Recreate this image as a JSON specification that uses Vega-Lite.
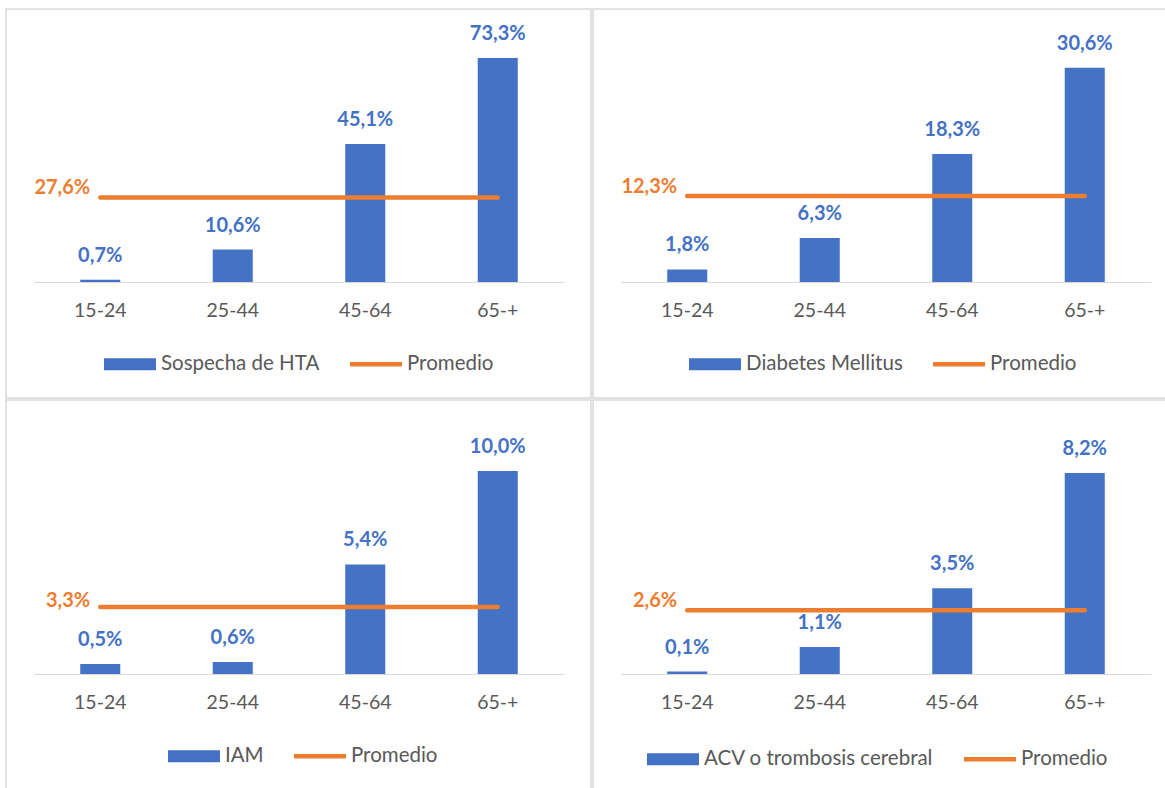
{
  "$schema": "https://vega.github.io/schema/vega-lite/v6.json",
  "padding": {"left": 5, "top": 8, "right": 0, "bottom": 0},
  "background": "white",
  "spacing": 0,
  "resolve": {"scale": {"color": "independent"}, "legend": {"color": "independent"}},
  "config": {
    "locale": {"number": {"decimal": ",", "thousands": ".", "grouping": [3], "currency": ["", " €"]}},
    "view": {"stroke": "#D9D9D9", "strokeWidth": 1.5},
    "font": "Lato",
    "concat": {"spacing": 0},
    "legend": {"title": null, "orient": "none", "direction": "horizontal", "symbolSize": 2704, "symbolStrokeWidth": 0, "labelFontSize": 20.5, "labelColor": "#595959", "labelOffset": 5, "labelLimit": 500, "columnPadding": 30}
  },
  "data": {
    "values": [
      {"panel": "HTA", "serie": "Sospecha de HTA", "edad": "15-24", "valor": 0.007},
      {"panel": "HTA", "serie": "Sospecha de HTA", "edad": "25-44", "valor": 0.106},
      {"panel": "HTA", "serie": "Sospecha de HTA", "edad": "45-64", "valor": 0.451},
      {"panel": "HTA", "serie": "Sospecha de HTA", "edad": "65-+", "valor": 0.733},
      {"panel": "HTA", "serie": "Promedio", "edad": "15-24", "valor": 0.276},
      {"panel": "HTA", "serie": "Promedio", "edad": "25-44", "valor": 0.276},
      {"panel": "HTA", "serie": "Promedio", "edad": "45-64", "valor": 0.276},
      {"panel": "HTA", "serie": "Promedio", "edad": "65-+", "valor": 0.276},
      {"panel": "DM", "serie": "Diabetes Mellitus", "edad": "15-24", "valor": 0.018},
      {"panel": "DM", "serie": "Diabetes Mellitus", "edad": "25-44", "valor": 0.063},
      {"panel": "DM", "serie": "Diabetes Mellitus", "edad": "45-64", "valor": 0.183},
      {"panel": "DM", "serie": "Diabetes Mellitus", "edad": "65-+", "valor": 0.306},
      {"panel": "DM", "serie": "Promedio", "edad": "15-24", "valor": 0.123},
      {"panel": "DM", "serie": "Promedio", "edad": "25-44", "valor": 0.123},
      {"panel": "DM", "serie": "Promedio", "edad": "45-64", "valor": 0.123},
      {"panel": "DM", "serie": "Promedio", "edad": "65-+", "valor": 0.123},
      {"panel": "IAM", "serie": "IAM", "edad": "15-24", "valor": 0.005},
      {"panel": "IAM", "serie": "IAM", "edad": "25-44", "valor": 0.006},
      {"panel": "IAM", "serie": "IAM", "edad": "45-64", "valor": 0.054},
      {"panel": "IAM", "serie": "IAM", "edad": "65-+", "valor": 0.100},
      {"panel": "IAM", "serie": "Promedio", "edad": "15-24", "valor": 0.033},
      {"panel": "IAM", "serie": "Promedio", "edad": "25-44", "valor": 0.033},
      {"panel": "IAM", "serie": "Promedio", "edad": "45-64", "valor": 0.033},
      {"panel": "IAM", "serie": "Promedio", "edad": "65-+", "valor": 0.033},
      {"panel": "ACV", "serie": "ACV o trombosis cerebral", "edad": "15-24", "valor": 0.001},
      {"panel": "ACV", "serie": "ACV o trombosis cerebral", "edad": "25-44", "valor": 0.011},
      {"panel": "ACV", "serie": "ACV o trombosis cerebral", "edad": "45-64", "valor": 0.035},
      {"panel": "ACV", "serie": "ACV o trombosis cerebral", "edad": "65-+", "valor": 0.082},
      {"panel": "ACV", "serie": "Promedio", "edad": "15-24", "valor": 0.026},
      {"panel": "ACV", "serie": "Promedio", "edad": "25-44", "valor": 0.026},
      {"panel": "ACV", "serie": "Promedio", "edad": "45-64", "valor": 0.026},
      {"panel": "ACV", "serie": "Promedio", "edad": "65-+", "valor": 0.026}
    ]
  },
  "vconcat": [
    {
      "spacing": 0,
      "resolve": {"scale": {"color": "independent"}, "legend": {"color": "independent"}},
      "hconcat": [
        {
          "width": 585, "height": 389,
          "transform": [{"filter": "datum.panel === 'HTA'"}],
          "encoding": {
            "x": {"field": "edad", "type": "nominal", "sort": ["15-24", "25-44", "45-64", "65-+"],
              "scale": {"range": [28, 558], "paddingInner": 0.698, "paddingOuter": 0.349},
              "axis": {"title": null, "offset": -116, "ticks": false, "labelPadding": 19, "labelFontSize": 19.5, "labelColor": "#595959", "domainColor": "#D9D9D9", "labelAngle": 0, "grid": false}},
            "y": {"field": "valor", "type": "quantitative", "scale": {"domain": [-0.3796, 0.893], "nice": false, "zero": false}, "axis": null},
            "color": {"field": "serie", "type": "nominal",
              "scale": {"domain": ["Sospecha de HTA", "Promedio"], "range": ["#4472C4", "#ED7D31"]},
              "legend": {"legendX": 98, "legendY": 329,
                "encode": {"symbols": {"update": {"shape": {"signal": "datum.value === 'Promedio' ? 'M-1,-0.087H1V0.087H-1Z' : 'M-1,-0.23H1V0.23H-1Z'"}, "fill": {"signal": "datum.value === 'Promedio' ? '#ED7D31' : '#4472C4'"}, "strokeWidth": {"value": 0}}}}}}
          },
          "layer": [
            {"transform": [{"filter": "datum.serie !== 'Promedio'"}], "mark": {"type": "bar"}},
            {"transform": [{"filter": "datum.serie !== 'Promedio'"}], "mark": {"type": "text", "dy": -24, "fontSize": 20, "fontWeight": "bold", "baseline": "middle"},
              "encoding": {"text": {"field": "valor", "type": "quantitative", "format": ".1%"}, "color": {"value": "#4472C4"}}},
            {"transform": [{"filter": "datum.serie === 'Promedio'"}], "mark": {"type": "line", "strokeWidth": 4.5, "strokeCap": "round"}},
            {"transform": [{"filter": "datum.serie === 'Promedio' && datum.edad === '15-24'"}], "mark": {"type": "text", "align": "right", "dx": -10, "dy": -10, "fontSize": 20, "fontWeight": "bold", "baseline": "middle"},
              "encoding": {"text": {"field": "valor", "type": "quantitative", "format": ".1%"}, "color": {"value": "#ED7D31"}}}
          ]
        },
        {
          "width": 574, "height": 389,
          "transform": [{"filter": "datum.panel === 'DM'"}],
          "encoding": {
            "x": {"field": "edad", "type": "nominal", "sort": ["15-24", "25-44", "45-64", "65-+"],
              "scale": {"range": [28, 558], "paddingInner": 0.698, "paddingOuter": 0.349},
              "axis": {"title": null, "offset": -116, "ticks": false, "labelPadding": 19, "labelFontSize": 19.5, "labelColor": "#595959", "domainColor": "#D9D9D9", "labelAngle": 0, "grid": false}},
            "y": {"field": "valor", "type": "quantitative", "scale": {"domain": [-0.1657, 0.39], "nice": false, "zero": false}, "axis": null},
            "color": {"field": "serie", "type": "nominal",
              "scale": {"domain": ["Diabetes Mellitus", "Promedio"], "range": ["#4472C4", "#ED7D31"]},
              "legend": {"legendX": 96, "legendY": 329,
                "encode": {"symbols": {"update": {"shape": {"signal": "datum.value === 'Promedio' ? 'M-1,-0.087H1V0.087H-1Z' : 'M-1,-0.23H1V0.23H-1Z'"}, "fill": {"signal": "datum.value === 'Promedio' ? '#ED7D31' : '#4472C4'"}, "strokeWidth": {"value": 0}}}}}}
          },
          "layer": [
            {"transform": [{"filter": "datum.serie !== 'Promedio'"}], "mark": {"type": "bar"}},
            {"transform": [{"filter": "datum.serie !== 'Promedio'"}], "mark": {"type": "text", "dy": -24, "fontSize": 20, "fontWeight": "bold", "baseline": "middle"},
              "encoding": {"text": {"field": "valor", "type": "quantitative", "format": ".1%"}, "color": {"value": "#4472C4"}}},
            {"transform": [{"filter": "datum.serie === 'Promedio'"}], "mark": {"type": "line", "strokeWidth": 4.5, "strokeCap": "round"}},
            {"transform": [{"filter": "datum.serie === 'Promedio' && datum.edad === '15-24'"}], "mark": {"type": "text", "align": "right", "dx": -10, "dy": -9, "fontSize": 20, "fontWeight": "bold", "baseline": "middle"},
              "encoding": {"text": {"field": "valor", "type": "quantitative", "format": ".1%"}, "color": {"value": "#ED7D31"}}}
          ]
        }
      ]
    },
    {
      "spacing": 0,
      "resolve": {"scale": {"color": "independent"}, "legend": {"color": "independent"}},
      "hconcat": [
        {
          "width": 585, "height": 390,
          "transform": [{"filter": "datum.panel === 'IAM'"}],
          "encoding": {
            "x": {"field": "edad", "type": "nominal", "sort": ["15-24", "25-44", "45-64", "65-+"],
              "scale": {"range": [28, 558], "paddingInner": 0.698, "paddingOuter": 0.349},
              "axis": {"title": null, "offset": -116, "ticks": false, "labelPadding": 19, "labelFontSize": 19.5, "labelColor": "#595959", "domainColor": "#D9D9D9", "labelAngle": 0, "grid": false}},
            "y": {"field": "valor", "type": "quantitative", "scale": {"domain": [-0.0571, 0.135], "nice": false, "zero": false}, "axis": null},
            "color": {"field": "serie", "type": "nominal",
              "scale": {"domain": ["IAM", "Promedio"], "range": ["#4472C4", "#ED7D31"]},
              "legend": {"legendX": 162, "legendY": 330,
                "encode": {"symbols": {"update": {"shape": {"signal": "datum.value === 'Promedio' ? 'M-1,-0.087H1V0.087H-1Z' : 'M-1,-0.23H1V0.23H-1Z'"}, "fill": {"signal": "datum.value === 'Promedio' ? '#ED7D31' : '#4472C4'"}, "strokeWidth": {"value": 0}}}}}}
          },
          "layer": [
            {"transform": [{"filter": "datum.serie !== 'Promedio'"}], "mark": {"type": "bar"}},
            {"transform": [{"filter": "datum.serie !== 'Promedio'"}], "mark": {"type": "text", "dy": -24, "fontSize": 20, "fontWeight": "bold", "baseline": "middle"},
              "encoding": {"text": {"field": "valor", "type": "quantitative", "format": ".1%"}, "color": {"value": "#4472C4"}}},
            {"transform": [{"filter": "datum.serie === 'Promedio'"}], "mark": {"type": "line", "strokeWidth": 4.5, "strokeCap": "round"}},
            {"transform": [{"filter": "datum.serie === 'Promedio' && datum.edad === '15-24'"}], "mark": {"type": "text", "align": "right", "dx": -10, "dy": -6, "fontSize": 20, "fontWeight": "bold", "baseline": "middle"},
              "encoding": {"text": {"field": "valor", "type": "quantitative", "format": ".1%"}, "color": {"value": "#ED7D31"}}}
          ]
        },
        {
          "width": 574, "height": 390,
          "transform": [{"filter": "datum.panel === 'ACV'"}],
          "encoding": {
            "x": {"field": "edad", "type": "nominal", "sort": ["15-24", "25-44", "45-64", "65-+"],
              "scale": {"range": [28, 558], "paddingInner": 0.698, "paddingOuter": 0.349},
              "axis": {"title": null, "offset": -116, "ticks": false, "labelPadding": 19, "labelFontSize": 19.5, "labelColor": "#595959", "domainColor": "#D9D9D9", "labelAngle": 0, "grid": false}},
            "y": {"field": "valor", "type": "quantitative", "scale": {"domain": [-0.0473, 0.1118], "nice": false, "zero": false}, "axis": null},
            "color": {"field": "serie", "type": "nominal",
              "scale": {"domain": ["ACV o trombosis cerebral", "Promedio"], "range": ["#4472C4", "#ED7D31"]},
              "legend": {"legendX": 54, "legendY": 333,
                "encode": {"symbols": {"update": {"shape": {"signal": "datum.value === 'Promedio' ? 'M-1,-0.087H1V0.087H-1Z' : 'M-1,-0.23H1V0.23H-1Z'"}, "fill": {"signal": "datum.value === 'Promedio' ? '#ED7D31' : '#4472C4'"}, "strokeWidth": {"value": 0}}}}}}
          },
          "layer": [
            {"transform": [{"filter": "datum.serie !== 'Promedio'"}], "mark": {"type": "bar"}},
            {"transform": [{"filter": "datum.serie !== 'Promedio'"}], "mark": {"type": "text", "dy": -24, "fontSize": 20, "fontWeight": "bold", "baseline": "middle"},
              "encoding": {"text": {"field": "valor", "type": "quantitative", "format": ".1%"}, "color": {"value": "#4472C4"}}},
            {"transform": [{"filter": "datum.serie === 'Promedio'"}], "mark": {"type": "line", "strokeWidth": 4.5, "strokeCap": "round"}},
            {"transform": [{"filter": "datum.serie === 'Promedio' && datum.edad === '15-24'"}], "mark": {"type": "text", "align": "right", "dx": -10, "dy": -9, "fontSize": 20, "fontWeight": "bold", "baseline": "middle"},
              "encoding": {"text": {"field": "valor", "type": "quantitative", "format": ".1%"}, "color": {"value": "#ED7D31"}}}
          ]
        }
      ]
    }
  ]
}
